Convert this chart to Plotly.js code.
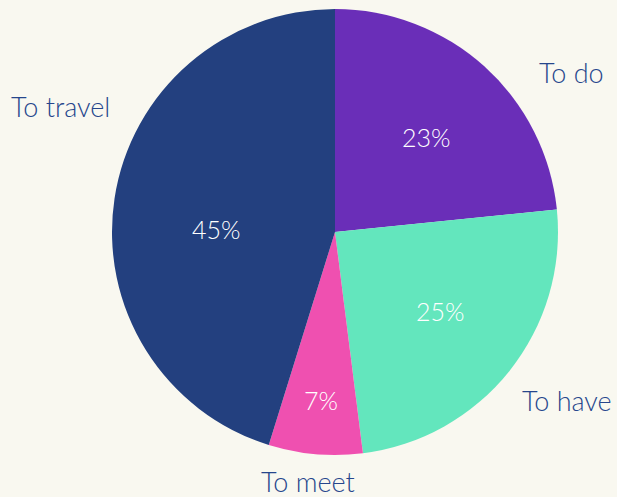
<!DOCTYPE html>
<html>
<head>
<meta charset="utf-8">
<script src="https://cdn.plot.ly/plotly-3.0.1.min.js"></script>
<style>
  html, body { margin: 0; padding: 0; background: #f9f8f0; }
  #chart { width: 617px; height: 497px; }
</style>
</head>
<body>
<div id="chart"></div>
<script>
const categories = ["To do", "To have", "To meet", "To travel"];
const values = [23.4, 24.6, 6.8, 45.2];
const colors = ["#6a2eb8", "#63e6bd", "#ef50b0", "#23407f"];

const W = 617, H = 497;
const px = (x) => x / W;
const py = (y) => 1 - y / H;

// label placements (pixel positions in the picture)
const namePos = [[571, 72], [567, 400], [308, 481], [60, 106]];
const pctPos = [[426, 137], [440, 311], [321, 400], [216, 229]];

const total = values.reduce((a, b) => a + b, 0);
const FONT = "Lato, 'Open Sans', sans-serif";

const annotations = [];
categories.forEach((c, i) => {
  annotations.push({
    x: px(namePos[i][0]), y: py(namePos[i][1]), xref: "paper", yref: "paper",
    text: c, showarrow: false, xanchor: "center", yanchor: "middle",
    font: { family: FONT, size: 27, color: "#26468c", weight: 300 }
  });
  annotations.push({
    x: px(pctPos[i][0]), y: py(pctPos[i][1]), xref: "paper", yref: "paper",
    text: Math.round(values[i] / total * 100) + "%", showarrow: false,
    xanchor: "center", yanchor: "middle",
    font: { family: FONT, size: 25, color: "#ffffff", weight: 300 }
  });
});

const trace = {
  type: "pie",
  labels: categories,
  values: values,
  sort: false,
  direction: "clockwise",
  rotation: 0,
  textinfo: "none",
  hoverinfo: "label+percent",
  marker: { colors: colors, line: { width: 0 } },
  domain: { x: [px(112), px(558)], y: [py(455), py(9)] },
  showlegend: false
};

const layout = {
  width: W, height: H,
  margin: { l: 0, r: 0, t: 0, b: 0 },
  paper_bgcolor: "#f9f8f0",
  plot_bgcolor: "#f9f8f0",
  showlegend: false,
  annotations: annotations
};

Plotly.newPlot("chart", [trace], layout, { displayModeBar: false, staticPlot: true });
</script>
</body>
</html>
